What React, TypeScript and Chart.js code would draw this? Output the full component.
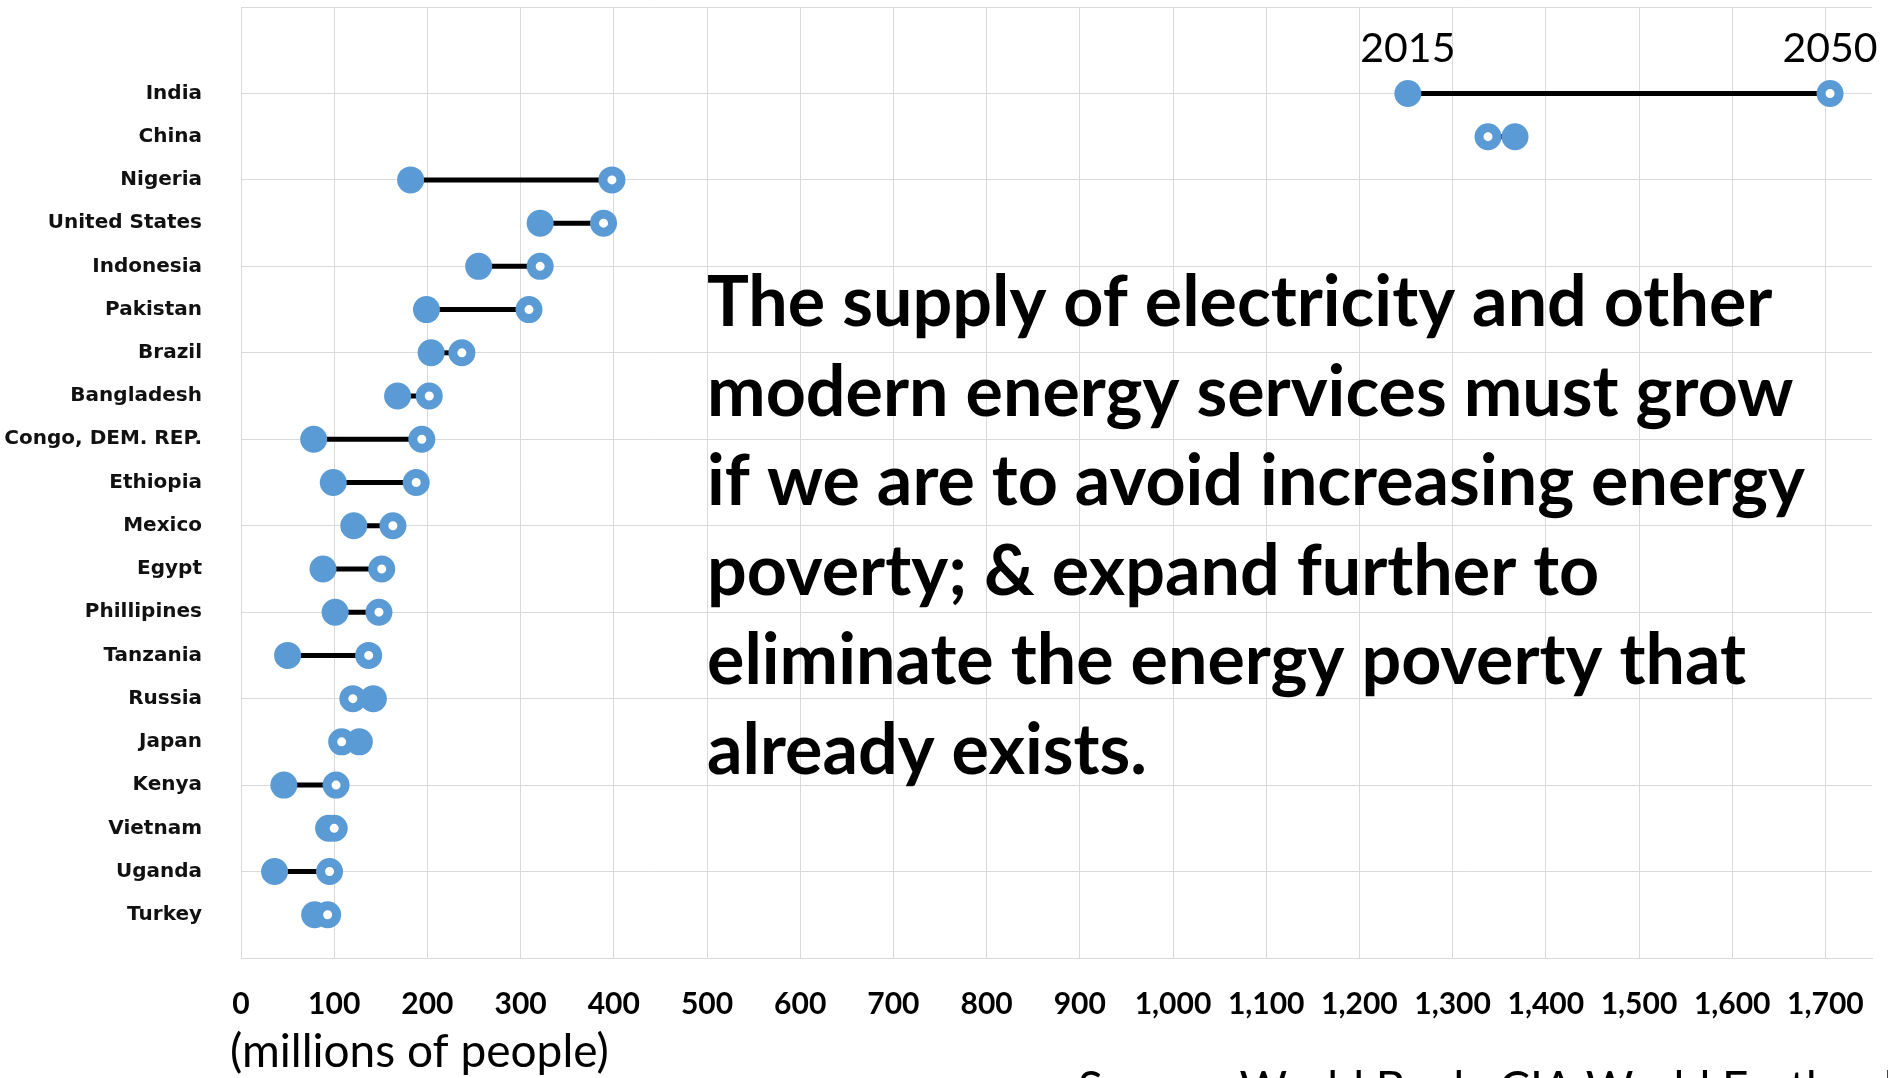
import React, { useEffect, useRef } from "react";
import { Chart, registerables } from "chart.js";

Chart.register(...registerables);

// Population (millions), listed top to bottom as drawn
const countries = [
  "India",
  "China",
  "Nigeria",
  "United States",
  "Indonesia",
  "Pakistan",
  "Brazil",
  "Bangladesh",
  "Congo, DEM. REP.",
  "Ethiopia",
  "Mexico",
  "Egypt",
  "Phillipines",
  "Tanzania",
  "Russia",
  "Japan",
  "Kenya",
  "Vietnam",
  "Uganda",
  "Turkey",
];
const pop2015 = [1252, 1367, 182, 321, 255, 199, 204, 168, 78, 99, 121, 88, 101, 50, 142, 127, 46, 94, 36, 79];
const pop2050 = [1705, 1338, 398, 389, 321, 309, 237, 202, 194, 188, 163, 151, 148, 137, 120, 108, 102, 100, 95, 93];

const yearLabels = ["2015", "2050"];
const xMin = 0;
const xMax = 1750;
const xStep = 100;
const yMin = 0;
const yMax = 22;

const annotationLines = [
  "The supply of electricity and other",
  "modern energy services must grow",
  "if we are to avoid increasing energy",
  "poverty; & expand further to",
  "eliminate the energy poverty that",
  "already exists.",
];
const axisNote = "(millions of people)";
const sourceNote = "Source: World Bank, CIA World Factbook";

const BLUE = "#5B9BD5";
const GRID = "#D9D9D9";

// India sits on the highest row, Turkey on row 1
const rowValue = (i: number) => countries.length - i;

const notesPlugin = {
  id: "notes",
  afterDraw(chart: any) {
    const { ctx, scales } = chart;
    const x = scales.x;
    const y = scales.y;
    ctx.save();
    ctx.fillStyle = "#000";
    ctx.textBaseline = "alphabetic";

    // year captions above the first row's markers
    ctx.font = "41px Lato";
    ctx.textAlign = "center";
    const topRow = y.getPixelForValue(rowValue(0));
    ctx.fillText(yearLabels[0], x.getPixelForValue(pop2015[0]), topRow - 31);
    ctx.fillText(yearLabels[1], x.getPixelForValue(pop2050[0]), topRow - 31);

    // message block
    ctx.textAlign = "left";
    ctx.font = "bold 70px Lato";
    annotationLines.forEach((line, k) => {
      ctx.fillText(line, 707, 326 + k * 89.5);
    });

    // units and source
    ctx.font = "46px Lato";
    ctx.fillText(axisNote, 230, 1067);
    ctx.fillText(sourceNote, 1078, 1104);
    ctx.restore();
  },
};

export default function App() {
  const canvasRef = useRef<HTMLCanvasElement>(null);

  useEffect(() => {
    const canvas = canvasRef.current;
    if (!canvas) return;

    const connectors = countries.map((name, i) => ({
      type: "line" as const,
      label: name,
      data: [
        { x: pop2015[i], y: rowValue(i) },
        { x: pop2050[i], y: rowValue(i) },
      ],
      borderColor: "#000",
      borderWidth: 5,
      pointRadius: 0,
      showLine: true,
      fill: false,
      order: 3,
    }));

    const chart = new Chart(canvas, {
      type: "scatter",
      data: {
        datasets: [
          ...connectors,
          {
            label: "2015",
            data: countries.map((_, i) => ({ x: pop2015[i], y: rowValue(i) })),
            backgroundColor: BLUE,
            borderColor: BLUE,
            borderWidth: 0,
            pointRadius: 13.5,
            order: 2,
          },
          {
            label: "2050",
            data: countries.map((_, i) => ({ x: pop2050[i], y: rowValue(i) })),
            backgroundColor: "#FFFFFF",
            borderColor: BLUE,
            borderWidth: 9,
            pointRadius: 9,
            order: 1,
          },
        ] as any,
      },
      options: {
        animation: false,
        responsive: false,
        devicePixelRatio: 1,
        layout: { autoPadding: false, padding: { top: 7, right: 16, left: 0, bottom: 0 } },
        plugins: {
          legend: { display: false },
          tooltip: { enabled: false },
        },
        scales: {
          x: {
            type: "linear",
            min: xMin,
            max: xMax,
            grid: { color: GRID, lineWidth: 1, drawTicks: false },
            border: { color: GRID, width: 1 },
            ticks: {
              stepSize: xStep,
              includeBounds: false,
              autoSkip: false,
              maxRotation: 0,
              padding: 28,
              color: "#000",
              font: { family: "Lato", weight: "bold", size: 30 },
              callback: (v: any) => Number(v).toLocaleString("en-US"),
            },
            afterFit: (s: any) => {
              s.height = 120;
              s.paddingLeft = 0;
              s.paddingRight = 0;
            },
          },
          y: {
            type: "linear",
            min: yMin,
            max: yMax,
            grid: {
              drawTicks: false,
              lineWidth: 1,
              color: (c: any) => (c.tick && c.tick.value % 2 === 0 ? GRID : "rgba(0,0,0,0)"),
            },
            border: { color: GRID, width: 1 },
            ticks: {
              stepSize: 1,
              autoSkip: false,
              padding: 39,
              color: "#111",
              font: { family: "DejaVu Sans", weight: "bold", size: 20, lineHeight: 0.01 },
              callback: (v: any) => {
                const i = countries.length - Number(v);
                return Number.isInteger(Number(v)) && i >= 0 && i < countries.length ? countries[i] : "";
              },
            },
            afterFit: (s: any) => {
              s.width = 241;
              s.paddingTop = 0;
              s.paddingBottom = 0;
            },
          },
        },
      },
      plugins: [notesPlugin],
    });

    return () => chart.destroy();
  }, []);

  return (
    <div
      style={{
        position: "fixed",
        left: 0,
        top: 0,
        width: 1888,
        height: 1078,
        background: "#fff",
        overflow: "hidden",
      }}
    >
      <canvas ref={canvasRef} width={1888} height={1078} style={{ display: "block" }} />
    </div>
  );
}
